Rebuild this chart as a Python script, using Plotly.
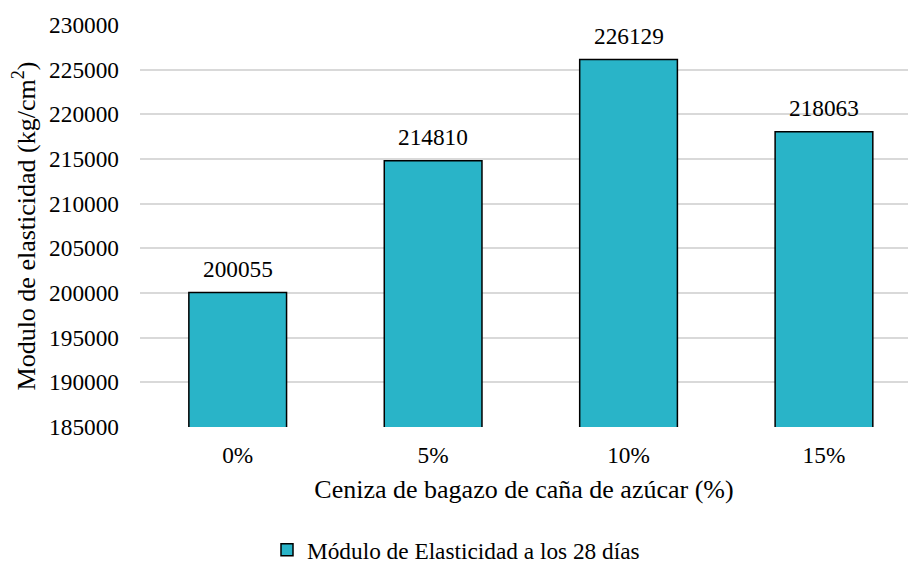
import plotly.graph_objects as go

categories = ["0%", "5%", "10%", "15%"]
values = [200055, 214810, 226129, 218063]
series_name = "Módulo de Elasticidad a los 28 días"
y_ticks = [185000, 190000, 195000, 200000, 205000, 210000, 215000, 220000, 225000, 230000]

FONT = "Liberation Serif"
BAR = "#29B4C8"
f = dict(family=FONT, size=23.3, color="black")
ft = dict(family=FONT, size=26, color="black")

fig = go.Figure()
fig.add_trace(go.Bar(
    x=categories, y=values, name=series_name,
    marker=dict(color=BAR, line=dict(color="black", width=1.5)),
    width=0.5, showlegend=True,
))
for c, v in zip(categories, values):
    fig.add_annotation(x=c, y=v, text=str(v), showarrow=False,
                       yanchor="bottom", yshift=9, font=f)

fig.update_layout(
    width=908, height=572,
    margin=dict(l=140, r=0, t=25, b=145),
    paper_bgcolor="white", plot_bgcolor="white",
    font=f,
    xaxis=dict(range=[-0.5, 3.43], showgrid=False, showline=False, ticks="",
               ticklabelstandoff=12, tickfont=f,
               title=dict(text="Ceniza de bagazo de caña de azúcar (%)", standoff=12, font=ft)),
    yaxis=dict(range=[185000, 230000], tickvals=y_ticks, tickformat="d", tickfont=f,
               showgrid=True, gridcolor="#D9D9D9", gridwidth=1.5,
               zeroline=False, showline=False, ticks="", ticklabelstandoff=20,
               title=dict(text="Modulo de elasticidad (kg/cm<sup>2</sup>)", standoff=6, font=ft)),
    legend=dict(orientation="h", xref="container", yref="container",
                x=267 / 908, xanchor="left", y=0, yanchor="bottom",
                itemwidth=30, font=f),
    bargap=0.5,
)

fig.write_html("out.html")
